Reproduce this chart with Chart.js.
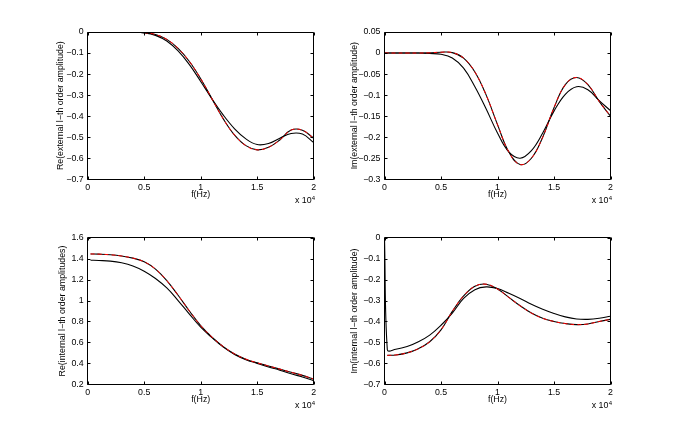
<!DOCTYPE html>
<html><head><meta charset="utf-8">
<script src="https://cdn.jsdelivr.net/npm/chart.js@4.4.0/dist/chart.umd.min.js"></script>
<style>
html,body{margin:0;padding:0;background:#fff;}
#wrap{position:relative;width:675px;height:434px;overflow:hidden;background:#fff;}
canvas{position:absolute;}
</style></head><body>
<div id="wrap">
<canvas id="c1" width="337" height="217" style="left:0px;top:0px;width:337px;height:217px"></canvas>
<canvas id="c2" width="338" height="217" style="left:337px;top:0px;width:338px;height:217px"></canvas>
<canvas id="c3" width="337" height="217" style="left:0px;top:217px;width:337px;height:217px"></canvas>
<canvas id="c4" width="338" height="217" style="left:337px;top:217px;width:338px;height:217px"></canvas>
</div>
<script>
// ---------- data ----------
const freq = [0,250,1000,2000,3000,4000,5000,6000,7000,8000,9000,10000,11000,12000,13000,14000,15000,16000,17000,18000,19000,20000];
const xTicks = [0,5000,10000,15000,20000];

// Re(external l-th order amplitude)
const reExtA = [0,0,0,0,0,-0.001,-0.004,-0.016,-0.043,-0.09,-0.155,-0.235,-0.318,-0.395,-0.46,-0.508,-0.535,-0.53,-0.505,-0.482,-0.485,-0.525];
const reExtB = [0,0,0,0,0,-0.001,-0.003,-0.012,-0.035,-0.078,-0.14,-0.222,-0.318,-0.413,-0.49,-0.54,-0.56,-0.548,-0.513,-0.466,-0.467,-0.505];
const reExtC = [0,0,0,0,0,-0.001,-0.003,-0.012,-0.035,-0.078,-0.14,-0.222,-0.318,-0.413,-0.49,-0.54,-0.56,-0.548,-0.513,-0.466,-0.467,-0.505];
const yTicks1 = [-0.7,-0.6,-0.5,-0.4,-0.3,-0.2,-0.1,0];

// Im(external l-th order amplitude)
const imExtA = [0,0,0,0,0,-0.001,-0.003,-0.012,-0.036,-0.08,-0.133,-0.19,-0.235,-0.25,-0.232,-0.19,-0.138,-0.098,-0.08,-0.087,-0.113,-0.137];
const imExtB = [0,0,0,0,0,0.0005,0.002,0.001,-0.012,-0.045,-0.1,-0.17,-0.235,-0.265,-0.25,-0.2,-0.13,-0.075,-0.058,-0.075,-0.115,-0.15];
const imExtC = [0,0,0,0,0,0.0005,0.002,0.001,-0.012,-0.045,-0.1,-0.17,-0.235,-0.265,-0.25,-0.2,-0.13,-0.075,-0.058,-0.075,-0.115,-0.15];
const yTicks2 = [-0.3,-0.25,-0.2,-0.15,-0.1,-0.05,0,0.05];

// Re(internal l-th order amplitudes)
const reIntA = [null,1.385,1.382,1.376,1.36,1.33,1.28,1.21,1.12,1.0,0.87,0.745,0.645,0.555,0.485,0.435,0.4,0.365,0.335,0.3,0.27,0.235];
const reIntB = [null,1.445,1.443,1.437,1.425,1.405,1.37,1.3,1.19,1.05,0.9,0.76,0.65,0.56,0.49,0.44,0.405,0.375,0.345,0.315,0.285,0.25];
const reIntC = [null,1.445,1.443,1.437,1.425,1.405,1.37,1.3,1.19,1.05,0.9,0.76,0.65,0.56,0.49,0.44,0.405,0.375,0.345,0.315,0.285,0.25];
const yTicks3 = [0.2,0.4,0.6,0.8,1,1.2,1.4,1.6];

// Im(internal l-th order amplitude)
const imIntA = [0,-0.535,-0.533,-0.52,-0.497,-0.465,-0.418,-0.36,-0.29,-0.248,-0.235,-0.243,-0.265,-0.29,-0.318,-0.342,-0.362,-0.378,-0.388,-0.39,-0.385,-0.375];
const imIntB = [null,-0.562,-0.56,-0.55,-0.53,-0.497,-0.44,-0.352,-0.278,-0.232,-0.222,-0.245,-0.285,-0.325,-0.36,-0.385,-0.4,-0.41,-0.415,-0.412,-0.4,-0.39];
const imIntC = [null,-0.562,-0.56,-0.55,-0.53,-0.497,-0.44,-0.352,-0.278,-0.232,-0.222,-0.245,-0.285,-0.325,-0.36,-0.385,-0.4,-0.41,-0.415,-0.412,-0.4,-0.39];
const yTicks4 = [-0.7,-0.6,-0.5,-0.4,-0.3,-0.2,-0.1,0];

const yTitles = ['Re(external l\u2212th order amplitude)','Im(external l\u2212th order amplitude)','Re(internal l\u2212th order amplitudes)','Im(internal l\u2212th order amplitude)'];
const xTitle = 'f(Hz)';

// ---------- layout ----------
const FONT = "'Liberation Sans', Arial, Helvetica, sans-serif";
const FS = 8.8, LH = FS * 1.2;
const panels = [
  {id:'c1', W:337, H:217, yw:87.7, pr:23.3, pt:32,   xh:37.7, titleX:60.7, A:reExtA, B:reExtB, C:reExtC, yt:yTicks1, title:yTitles[0]},
  {id:'c2', W:338, H:217, yw:47.5, pr:64.5, pt:32,   xh:37.7, titleX:17.5, A:imExtA, B:imExtB, C:imExtC, yt:yTicks2, title:yTitles[1]},
  {id:'c3', W:337, H:217, yw:87.7, pr:23.3, pt:20.7, xh:49.7, titleX:62.5, A:reIntA, B:reIntB, C:reIntC, yt:yTicks3, title:yTitles[2]},
  {id:'c4', W:338, H:217, yw:47.5, pr:64.5, pt:20.7, xh:49.7, titleX:18,   A:imIntA, B:imIntB, C:imIntC, yt:yTicks4, title:yTitles[3]},
];

function fmt(v){ const s = String(Math.round(v*1000)/1000); return s.replace('-', '\u2212'); }
function pts(arr){ return freq.map((f,i)=>({x:f, y:arr[i]})); }

const framePlugin = {
  id:'frame',
  afterDraw(chart){
    const {ctx, chartArea:a, scales:{x, y}} = chart;
    const L = Math.floor(a.left)+0.5, R = Math.floor(a.right)+0.5, T = Math.floor(a.top)+0.5, B = Math.floor(a.bottom)+0.5;
    ctx.save();
    ctx.strokeStyle = '#000'; ctx.lineWidth = 1;
    ctx.beginPath();
    ctx.rect(L, T, R-L, B-T);
    const tl = 3;
    x.ticks.forEach(t => {
      const px = Math.round(x.getPixelForValue(t.value))+0.5;
      ctx.moveTo(px, B); ctx.lineTo(px, B-tl);
      ctx.moveTo(px, T); ctx.lineTo(px, T+tl);
    });
    y.ticks.forEach(t => {
      const py = Math.round(y.getPixelForValue(t.value))+0.5;
      ctx.moveTo(L, py); ctx.lineTo(L+tl, py);
      ctx.moveTo(R, py); ctx.lineTo(R-tl, py);
    });
    ctx.stroke();
    // exponent label
    ctx.fillStyle = '#000';
    ctx.textBaseline = 'alphabetic';
    ctx.font = '6px ' + FONT;
    const w4 = ctx.measureText('4').width;
    ctx.textAlign = 'left';
    const xr = a.right + 1.5;
    ctx.fillText('4', xr - w4, a.bottom + 20.5);
    ctx.font = FS + 'px ' + FONT;
    ctx.textAlign = 'right';
    ctx.fillText('x 10', xr - w4 - 0.3, a.bottom + 24);
    ctx.restore();
  }
};

panels.forEach(p => {
  const ctx = document.getElementById(p.id).getContext('2d');
  new Chart(ctx, {
    type:'line',
    data:{ datasets:[
      {data:pts(p.C), borderColor:'#ff0000', borderWidth:1, borderDash:[4,3], pointRadius:0, tension:0.4, order:0, fill:false},
      {data:pts(p.B), borderColor:'#000000', borderWidth:1.1, pointRadius:0, tension:0.4, order:1, fill:false},
      {data:pts(p.A), borderColor:'#000000', borderWidth:1.1, pointRadius:0, tension:0.4, order:2, fill:false},
    ]},
    options:{
      responsive:false, animation:false, events:[],
      devicePixelRatio:1,
      layout:{padding:{left:0, top:p.pt, right:p.pr, bottom:0}},
      plugins:{legend:{display:false}, tooltip:{enabled:false}},
      scales:{
        x:{
          type:'linear', min:0, max:20000,
          afterBuildTicks: s => { s.ticks = xTicks.map(v => ({value:v})); },
          afterFit: s => { s.height = p.xh; },
          grid:{display:false, drawTicks:false}, border:{display:false},
          ticks:{callback: v => fmt(v/10000), padding:3.2, maxRotation:0, autoSkip:false, color:'#000', font:{family:FONT, size:FS, lineHeight:1.2}},
          title:{display:true, text:xTitle, color:'#000', font:{family:FONT, size:FS, lineHeight:1.2}, padding:{top:0, bottom: p.xh - 15.5 - LH/2}}
        },
        y:{
          type:'linear', min:p.yt[0], max:p.yt[p.yt.length-1],
          afterBuildTicks: s => { s.ticks = p.yt.map(v => ({value:v})); },
          afterFit: s => { s.width = p.yw; },
          grid:{display:false, drawTicks:false}, border:{display:false},
          ticks:{callback: v => fmt(v), padding:4, autoSkip:false, color:'#000', font:{family:FONT, size:FS, lineHeight:1.2}},
          title:{display:true, text:p.title, color:'#000', font:{family:FONT, size:FS, lineHeight:1.2}, padding:{top:p.titleX - LH/2, bottom:0}}
        }
      }
    },
    plugins:[framePlugin]
  });
});
</script>
</body></html>
